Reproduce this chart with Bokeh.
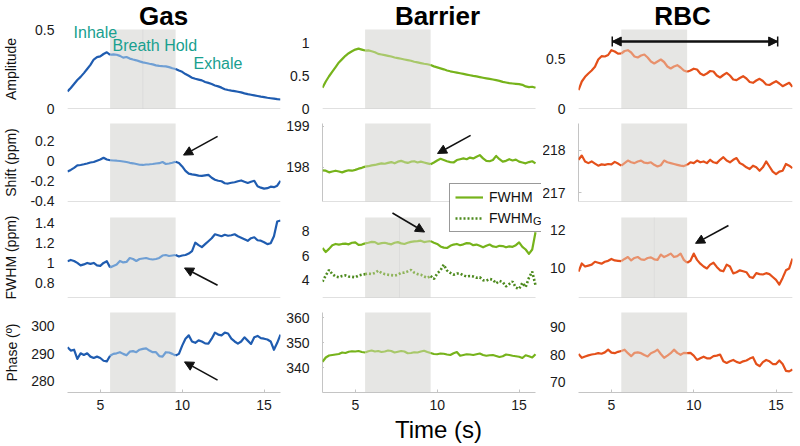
import numpy as np
from bokeh.plotting import figure
from bokeh.layouts import column, row
from bokeh.models import (Range1d, FixedTicker, PrintfTickFormatter, BoxAnnotation,
                          Label, Arrow, NormalHead, TeeHead, Legend, LegendItem)
from bokeh.embed import file_html
from bokeh.resources import INLINE

# ---------------- data ----------------
t = np.round(3.0 + 0.2 * np.arange(66), 1)   # time (s)
HOLD = (5.6, 9.6)                             # breath hold window (s)

gas_amp = [0.108, 0.13, 0.155, 0.18, 0.20, 0.224, 0.25, 0.276, 0.31, 0.325, 0.33, 0.345, 0.356,
           0.34, 0.342, 0.34, 0.333, 0.322, 0.326, 0.316, 0.31, 0.305, 0.298, 0.292, 0.288, 0.283,
           0.279, 0.273, 0.27, 0.268, 0.267, 0.262, 0.255, 0.25, 0.24, 0.232, 0.218, 0.207, 0.195,
           0.188, 0.183, 0.178, 0.168, 0.162, 0.155, 0.146, 0.14, 0.132, 0.122, 0.117, 0.113, 0.11,
           0.106, 0.102, 0.096, 0.091, 0.087, 0.083, 0.079, 0.075, 0.072, 0.068, 0.065, 0.062, 0.059, 0.057]
bar_amp = [0.315, 0.41, 0.49, 0.56, 0.63, 0.70, 0.75, 0.80, 0.84, 0.87, 0.895, 0.91, 0.895, 0.88,
           0.882, 0.87, 0.855, 0.83, 0.82, 0.81, 0.8, 0.79, 0.775, 0.765, 0.755, 0.745, 0.735, 0.725,
           0.71, 0.70, 0.69, 0.68, 0.672, 0.66, 0.64, 0.625, 0.61, 0.595, 0.578, 0.565, 0.555, 0.545,
           0.535, 0.525, 0.515, 0.505, 0.495, 0.487, 0.477, 0.467, 0.458, 0.45, 0.44, 0.43, 0.42,
           0.405, 0.395, 0.385, 0.38, 0.375, 0.37, 0.36, 0.335, 0.325, 0.33, 0.315]
rbc_amp = [0.183, 0.27, 0.317, 0.35, 0.38, 0.417, 0.49, 0.523, 0.52, 0.535, 0.583, 0.57, 0.548,
           0.55, 0.575, 0.583, 0.56, 0.52, 0.51, 0.53, 0.54, 0.51, 0.47, 0.45, 0.47, 0.49, 0.465,
           0.42, 0.40, 0.42, 0.433, 0.41, 0.38, 0.367, 0.38, 0.398, 0.39, 0.35, 0.333, 0.35, 0.375,
           0.37, 0.33, 0.31, 0.335, 0.357, 0.33, 0.29, 0.283, 0.305, 0.323, 0.3, 0.265, 0.257, 0.28,
           0.297, 0.275, 0.24, 0.235, 0.255, 0.273, 0.25, 0.223, 0.24, 0.257, 0.217]

gas_shift = [-0.107, -0.09, -0.07, -0.045, -0.04, -0.033, -0.025, -0.015, -0.01, 0.003, 0.015,
             0.033, 0.015, 0.008, 0.005, 0.003, 0.0, -0.005, -0.01, -0.018, -0.023, -0.03, -0.038,
             -0.04, -0.035, -0.033, -0.03, -0.025, -0.022, -0.01, -0.03, -0.025, -0.018, -0.008,
             -0.02, -0.055, -0.1, -0.128, -0.135, -0.14, -0.148, -0.15, -0.145, -0.14, -0.17, -0.19,
             -0.2, -0.205, -0.225, -0.228, -0.22, -0.215, -0.205, -0.197, -0.21, -0.222, -0.21, -0.2,
             -0.255, -0.27, -0.28, -0.275, -0.26, -0.265, -0.25, -0.2]
bar_shift = [197.93, 197.92, 197.88, 197.9, 197.92, 197.9, 197.88, 197.91, 197.93, 197.92, 197.94,
             197.97, 197.99, 198.02, 198.03, 198.05, 198.06, 198.08, 198.1, 198.09, 198.11, 198.13,
             198.1, 198.14, 198.16, 198.13, 198.11, 198.14, 198.15, 198.12, 198.14, 198.12, 198.1,
             198.08, 198.12, 198.17, 198.21, 198.18, 198.15, 198.13, 198.12, 198.18, 198.2, 198.22,
             198.2, 198.24, 198.22, 198.26, 198.3, 198.22, 198.16, 198.15, 198.18, 198.28, 198.2,
             198.14, 198.16, 198.2, 198.17, 198.19, 198.14, 198.12, 198.1, 198.13, 198.15, 198.1]
rbc_shift = [217.78, 217.88, 217.74, 217.7, 217.74, 217.69, 217.64, 217.67, 217.66, 217.68, 217.67,
             217.73, 217.69, 217.64, 217.7, 217.76, 217.72, 217.7, 217.74, 217.76, 217.71, 217.7,
             217.72, 217.66, 217.62, 217.65, 217.76, 217.72, 217.7, 217.68, 217.66, 217.64, 217.63,
             217.66, 217.72, 217.7, 217.76, 217.72, 217.74, 217.7, 217.78, 217.72, 217.7, 217.78,
             217.84, 217.76, 217.72, 217.78, 217.82, 217.7, 217.66, 217.6, 217.56, 217.64, 217.6,
             217.52, 217.6, 217.74, 217.62, 217.5, 217.44, 217.5, 217.52, 217.68, 217.64, 217.58]

gas_fwhm = [1.017, 1.03, 1.02, 1.0, 0.975, 0.985, 1.0, 0.99, 1.0, 0.975, 0.97, 1.0, 1.017, 0.955,
            0.97, 0.985, 1.02, 1.005, 1.01, 1.05, 1.04, 1.02, 1.04, 1.045, 1.05, 1.04, 1.035, 1.04,
            1.05, 1.075, 1.08, 1.07, 1.075, 1.08, 1.065, 1.075, 1.08, 1.095, 1.12, 1.205, 1.18, 1.16,
            1.19, 1.22, 1.25, 1.29, 1.28, 1.27, 1.285, 1.275, 1.28, 1.29, 1.27, 1.255, 1.24, 1.224,
            1.25, 1.26, 1.23, 1.225, 1.21, 1.19, 1.2, 1.27, 1.42, 1.43]
bar_fwhm = [6.62, 6.3, 6.55, 6.85, 6.95, 6.9, 6.95, 6.98, 6.92, 7.05, 7.08, 6.88, 6.9, 7.0, 7.05,
            7.12, 7.1, 6.95, 7.02, 7.05, 6.98, 6.92, 7.05, 7.1, 7.0, 6.95, 7.05, 7.12, 7.16, 7.18,
            7.22, 7.1, 7.15, 7.18, 7.05, 6.95, 6.75, 6.65, 6.62, 6.8, 6.9, 6.95, 6.85, 6.92, 7.02,
            7.0, 6.85, 6.9, 6.8, 6.68, 6.8, 6.9, 6.75, 6.7, 6.8, 6.78, 6.68, 6.75, 6.72, 6.85, 7.08,
            6.72, 6.5, 6.14, 6.5, 7.9]
bar_fwhm_g = [3.89, 4.4, 4.84, 4.5, 4.3, 4.24, 4.35, 4.4, 4.3, 4.28, 4.24, 4.38, 4.45, 4.5, 4.55,
              4.5, 4.6, 4.78, 4.6, 4.5, 4.45, 4.42, 4.38, 4.45, 4.6, 4.62, 4.72, 4.84, 4.62, 4.5,
              4.45, 4.3, 4.2, 4.35, 4.1, 4.55, 4.8, 5.27, 4.8, 4.6, 4.45, 4.55, 4.55, 4.4, 4.3, 4.35,
              4.3, 4.2, 4.24, 4.0, 3.97, 4.1, 4.05, 3.75, 3.95, 3.85, 3.5, 3.7, 3.9, 3.4, 3.3, 3.8,
              3.45, 4.2, 4.7, 3.6]
rbc_fwhm = [9.83, 10.26, 10.1, 10.15, 10.2, 10.35, 10.3, 10.25, 10.35, 10.4, 10.5, 10.42, 10.4,
            10.38, 10.5, 10.6, 10.42, 10.55, 10.6, 10.48, 10.45, 10.55, 10.58, 10.48, 10.45, 10.73,
            10.6, 10.68, 10.78, 10.6, 10.65, 10.78, 10.45, 10.3, 10.4, 10.78, 10.45, 10.25, 10.1,
            10.0, 10.2, 10.3, 10.08, 9.9, 9.85, 10.2, 10.1, 9.74, 9.8, 9.9, 9.85, 9.8, 9.55, 9.5,
            9.75, 9.7, 9.68, 9.75, 9.7, 9.55, 9.4, 9.15, 9.5, 9.9, 10.0, 10.52]

gas_phase = [292.4, 291.2, 291.5, 288.2, 290.2, 289.6, 290.2, 289.0, 288.5, 289.0, 288.5, 287.5,
             287.3, 289.3, 290.0, 290.2, 290.6, 290.0, 289.5, 290.8, 291.0, 290.6, 291.5, 291.8,
             292.0, 291.2, 290.6, 290.6, 289.2, 289.0, 290.6, 290.5, 290.0, 289.4, 290.0, 293.0,
             295.5, 296.7, 294.5, 294.0, 294.9, 294.5, 293.8, 293.7, 295.5, 297.7, 297.0, 296.7,
             297.7, 297.4, 295.5, 294.5, 293.7, 294.5, 296.0, 294.8, 293.6, 296.0, 296.5, 295.7,
             295.5, 295.2, 294.5, 291.5, 294.0, 297.0]
bar_phase = [342.3, 344.0, 344.8, 345.0, 345.2, 345.4, 346.0, 345.8, 346.3, 346.5, 346.4, 346.6,
             346.2, 346.0, 346.5, 346.8, 346.4, 346.6, 346.2, 346.4, 346.8, 346.6, 346.0, 346.3,
             346.6, 346.4, 345.7, 345.8, 346.1, 346.0, 346.4, 346.7, 346.2, 345.8, 345.4, 345.3,
             345.6, 345.5, 345.2, 345.0, 345.7, 346.2, 344.7, 345.0, 345.3, 345.2, 345.0, 345.3,
             345.6, 345.0, 344.7, 344.9, 345.0, 344.6, 344.2, 344.5, 345.2, 345.0, 344.7, 344.5,
             344.3, 343.8, 344.9, 344.5, 344.0, 345.3]
rbc_phase = [80.2, 78.8, 79.3, 79.7, 80.0, 80.2, 80.5, 80.3, 80.8, 81.8, 80.7, 80.5, 81.0, 81.3,
             81.8, 80.5, 79.4, 80.6, 80.8, 80.5, 79.8, 79.3, 80.5, 81.0, 81.8, 80.2, 78.8, 79.6,
             80.5, 81.8, 80.6, 79.9, 80.6, 80.5, 80.6, 79.6, 78.0, 78.6, 79.2, 78.6, 78.6, 79.4,
             79.6, 80.0, 77.5, 76.9, 77.5, 78.0, 77.3, 76.9, 77.5, 77.8, 78.5, 79.0, 76.5, 75.7,
             77.2, 78.0, 77.5, 76.5, 76.5, 77.8, 76.5, 74.0, 73.8, 74.5]

col_titles = ["Gas", "Barrier", "RBC"]
row_labels = ["Amplitude", "Shift (ppm)", "FWHM (ppm)", "Phase (\u00ba)"]
legend_labels = ["FWHM", "FWHM"]
legend_sub = "G"
x_ticks = [5, 10, 15]
X_SPAN = (3.0, 16.0)

y_ranges = [
    [(0.0, 0.5), (0.0, 1.2), (0.0, 0.79)],
    [(-0.41, 0.38), (197.17, 199.07), (216.79, 218.64)],
    [(0.65, 1.46), (2.6, 9.1), (8.47, 12.68)],
    [(276.0, 305.0), (330.0, 362.0), (66.0, 95.5)],
]
y_ticks = [
    [[0, 0.5], [0, 0.5, 1], [0, 0.5]],
    [[-0.4, -0.2, 0, 0.2], [198, 199], [217, 218]],
    [[0.8, 1, 1.2, 1.4], [4, 6, 8], [10, 12]],
    [[280, 290, 300], [340, 350, 360], [70, 80, 90]],
]
series = [
    [gas_amp, bar_amp, rbc_amp],
    [gas_shift, bar_shift, rbc_shift],
    [gas_fwhm, bar_fwhm, rbc_fwhm],
    [gas_phase, bar_phase, rbc_phase],
]

# ---------------- style / geometry ----------------
DARK = ["#1f5cb0", "#76b31b", "#e4501a"]
LIGHT = ["#6f9fd4", "#a8c86a", "#e8916c"]
DOT = "#4d8a1e"
BAND = "#e6e6e4"
TEAL = "#18a08f"
FONT = "Liberation Sans"
AXC = "#c4c4c4"
INK = "#111111"

MAIN_H, MAIN_FRAME_H, MAIN_BOTTOM = 416, 392, 24
PANEL_PX = [(29, 108), (123, 201), (217, 297), (312, 392)]   # frame top/bottom per row (px)
NARROW_ROWS = [(116, 29, 8), (93, 7, 8), (96, 8, 8), (111, 7, 24)]  # height, top, bottom border
NARROW_W = [67, 37, 35]
MAIN_W = [218, 221, 222]
MAIN_RIGHT = [5, 2, 8]
PLOT_W = [213, 213, 214]        # pixel width covering the 3..16 s span
ylab_standoff = [13, 8, 13, 8]
RNAMES = ["default", "r1", "r2", "r3"]
LEG_LEFT_X = 10.75              # where the legend box starts (Barrier, data x)


def main_range(lo, hi, top, bot):
    py_b = MAIN_FRAME_H - bot
    py_t = MAIN_FRAME_H - top
    s = (hi - lo) / (py_t - py_b)
    start = lo - py_b * s
    return start, start + MAIN_FRAME_H * s


def y_at(r, c, cy):
    lo, hi = y_ranges[r][c]
    top, bot = PANEL_PX[r]
    return lo + (bot - cy) * (hi - lo) / (bot - top)


def segments(y):
    y = np.asarray(y, dtype=float)
    eps = 1e-9
    a = t <= HOLD[0] + eps
    b = (t >= HOLD[0] - eps) & (t <= HOLD[1] + eps)
    c = t >= HOLD[1] - eps
    return (t[a], y[a]), (t[b], y[b]), (t[c], y[c])


def style_yaxis(ya, ticks):
    ya.ticker = FixedTicker(ticks=ticks)
    ya.formatter = PrintfTickFormatter(format="%g")
    ya.axis_line_color = AXC
    ya.major_tick_line_color = AXC
    ya.major_tick_in = 3
    ya.major_tick_out = 0
    ya.minor_tick_line_color = None
    ya.major_label_standoff = 13
    ya.major_label_text_font = FONT
    ya.major_label_text_font_size = "14px"
    ya.major_label_text_color = "#1a1a1a"


mains = []
narrow_cols = []
main_renders = {}
for c in range(3):
    # ---- narrow axis figures (one per row) ----
    nfigs = []
    for r in range(4):
        h, bt, bb = NARROW_ROWS[r]
        q = figure(width=NARROW_W[c], height=h, x_range=Range1d(0, 1),
                   y_range=Range1d(*y_ranges[r][c]), x_axis_location=None,
                   output_backend="svg", toolbar_location=None, tools="",
                   min_border_left=NARROW_W[c] - 1, min_border_right=0,
                   min_border_top=bt, min_border_bottom=bb)
        q.xgrid.visible = False
        q.ygrid.visible = False
        q.outline_line_color = None
        q.border_fill_color = None
        q.background_fill_color = None
        style_yaxis(q.yaxis[0], y_ticks[r][c])
        if c == 0:
            ya = q.yaxis[0]
            ya.axis_label = row_labels[r]
            ya.axis_label_text_font = FONT
            ya.axis_label_text_font_size = "14px"
            ya.axis_label_text_font_style = "normal"
            ya.axis_label_text_color = INK
            ya.axis_label_standoff = ylab_standoff[r]
        nfigs.append(q)
    narrow_cols.append(column(*nfigs, spacing=0))

    # ---- main data figure (all four panels of this column) ----
    frame_w = MAIN_W[c] - MAIN_RIGHT[c]
    x_end = X_SPAN[0] + frame_w * (X_SPAN[1] - X_SPAN[0]) / PLOT_W[c]
    p = figure(width=MAIN_W[c], height=MAIN_H, x_range=Range1d(X_SPAN[0], x_end),
               y_range=Range1d(*main_range(*y_ranges[0][c], *PANEL_PX[0])),
               y_axis_location=None, output_backend="svg", toolbar_location=None, tools="",
               min_border_left=0, min_border_right=MAIN_RIGHT[c],
               min_border_top=0, min_border_bottom=MAIN_BOTTOM)
    p.extra_y_ranges = {RNAMES[r]: Range1d(*main_range(*y_ranges[r][c], *PANEL_PX[r]))
                        for r in range(1, 4)}
    p.xgrid.visible = False
    p.ygrid.visible = False
    p.outline_line_color = None
    p.border_fill_color = None
    p.background_fill_color = None

    xa = p.xaxis[0]
    xa.ticker = FixedTicker(ticks=x_ticks)
    xa.bounds = X_SPAN
    xa.axis_line_color = AXC
    xa.major_tick_line_color = AXC
    xa.major_tick_in = 3
    xa.major_tick_out = 0
    xa.minor_tick_line_color = None
    xa.major_label_standoff = 7
    xa.major_label_text_font = FONT
    xa.major_label_text_font_size = "14px"
    xa.major_label_text_color = "#1a1a1a"

    for r in range(4):
        lo, hi = y_ranges[r][c]
        nm = RNAMES[r]
        p.add_layout(BoxAnnotation(left=HOLD[0], right=HOLD[1], bottom=lo, top=hi,
                                   fill_color=BAND, fill_alpha=1.0, line_color=None,
                                   level="underlay", y_range_name=nm))
        if r < 3:   # bottom axis line of the upper panels (hidden behind the legend box)
            right = LEG_LEFT_X if (r == 1 and c == 1) else X_SPAN[1]
            p.add_layout(BoxAnnotation(left=X_SPAN[0], right=right, bottom=lo, top=lo,
                                       fill_alpha=0, line_color=AXC, line_width=1,
                                       y_range_name=nm))
        rends = []
        for k, (xs, ys) in enumerate(segments(series[r][c])):
            col = LIGHT[c] if k == 1 else DARK[c]
            rends.append(p.line(xs, ys, line_color=col, line_width=2.2, line_join="round",
                                y_range_name=nm))
        main_renders[(r, c)] = rends
    mains.append(p)

# faint split line inside the band
for (r, c, xloc) in [(0, 0, 7.6), (2, 1, 7.7), (2, 2, 7.6)]:
    lo, hi = y_ranges[r][c]
    mains[c].add_layout(BoxAnnotation(left=xloc, right=xloc, bottom=lo, top=hi, fill_alpha=0,
                                      line_color="#d5d5d3", line_width=1, level="underlay",
                                      y_range_name=RNAMES[r]))

# dotted FWHM_G series + legend (Barrier)
pb = mains[1]
dot_rends = []
for k, (xs, ys) in enumerate(segments(bar_fwhm_g)):
    col = "#8fb45a" if k == 1 else DOT
    dot_rends.append(pb.line(xs, ys, line_color=col, line_width=2.6, line_dash="2 2",
                             y_range_name="r2"))
leg = Legend(items=[LegendItem(label=legend_labels[0], renderers=[main_renders[(2, 1)][2]]),
                    LegendItem(label=legend_labels[1], renderers=[dot_rends[2]])],
             location=(127, 160), orientation="vertical", padding=5, spacing=5, margin=0,
             glyph_width=28, glyph_height=16, label_height=16, label_width=47, label_standoff=6,
             label_text_font=FONT, label_text_font_size="14px", label_text_color=INK,
             border_line_color="#333333", border_line_width=1,
             background_fill_color="white", background_fill_alpha=0.0)
pb.add_layout(leg)
pb.add_layout(Label(x=15.84, y=y_at(2, 1, 220), text=legend_sub, text_font=FONT,
                    text_font_size="11px", text_color=INK, text_align="left",
                    text_baseline="middle", y_range_name="r2"))

# column titles
title_x = [8.86, 10.02, 9.32]
for c in range(3):
    mains[c].add_layout(Label(x=title_x[c], y=y_at(0, c, 15), text=col_titles[c], text_font=FONT,
                              text_font_size="26px", text_font_style="bold", text_color="#000000",
                              text_align="center", text_baseline="middle"))

# phase annotations in Gas amplitude
for txt, xx, cy in [("Inhale", 3.37, 32), ("Breath Hold", 5.75, 45), ("Exhale", 10.69, 63)]:
    mains[0].add_layout(Label(x=xx, y=y_at(0, 0, cy), text=txt, text_font=FONT,
                              text_font_size="16px", text_color=TEAL, text_align="left",
                              text_baseline="middle"))

# arrows  (row, col, x_start, y_start, x_end, y_end) in data units
arrows = [
    (1, 0, 12.16, 0.25, 10.08, 0.06),
    (1, 1, 12.04, 198.78, 10.02, 198.34),
    (2, 0, 12.16, 0.774, 10.14, 0.949),
    (2, 1, 7.27, 9.47, 9.23, 7.92),
    (2, 2, 12.11, 12.26, 10.11, 11.32),
    (3, 0, 12.16, 280.5, 10.14, 287.1),
]
for r, c, xs, ys, xe, ye in arrows:
    mains[c].add_layout(Arrow(end=NormalHead(size=9, fill_color=INK, line_color=INK),
                              x_start=xs, y_start=ys, x_end=xe, y_end=ye,
                              line_color=INK, line_width=1.6, y_range_name=RNAMES[r]))

# RBC range bar
pr = mains[2]
pr.add_layout(Arrow(start=TeeHead(size=10, line_width=1.5, line_color=INK),
                    end=TeeHead(size=10, line_width=1.5, line_color=INK),
                    x_start=5.05, y_start=0.67, x_end=15.1, y_end=0.67,
                    line_color=INK, line_width=2))
pr.add_layout(Arrow(start=NormalHead(size=9, fill_color=INK, line_color=INK),
                    end=NormalHead(size=9, fill_color=INK, line_color=INK),
                    x_start=5.05, y_start=0.67, x_end=15.1, y_end=0.67,
                    line_color=INK, line_width=2))

# x axis title strip
tf = figure(width=800, height=30, x_range=Range1d(0, 800), y_range=Range1d(0, 30),
            x_axis_location=None, y_axis_location=None, output_backend="svg",
            toolbar_location=None, tools="", min_border=0)
tf.xgrid.visible = False
tf.ygrid.visible = False
tf.outline_line_color = None
tf.border_fill_color = None
tf.background_fill_color = None
tf.add_layout(Label(x=438, y=17, text="Time (s)", text_font=FONT, text_font_size="24px",
                    text_color="#000000", text_align="center", text_baseline="middle"))

top = row(narrow_cols[0], mains[0], narrow_cols[1], mains[1], narrow_cols[2], mains[2], spacing=0)
layout = column(top, tf, spacing=0)
open("out.html", "w").write(file_html(layout, INLINE))
